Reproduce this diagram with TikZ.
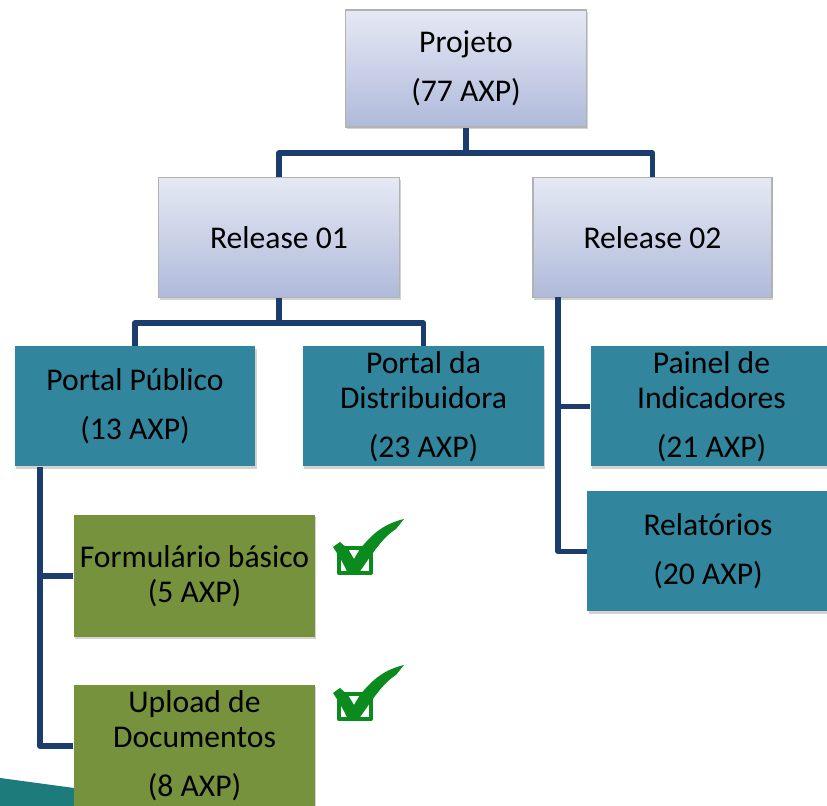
\documentclass[tikz,border=0pt]{standalone}
\usepackage{fontspec}
\setmainfont{Carlito}
\usetikzlibrary{shadows}
\definecolor{linkblue}{HTML}{1B3D6E}
\definecolor{tealbox}{HTML}{31859C}
\definecolor{olivebox}{HTML}{76923C}
\definecolor{tealband}{HTML}{1E7B7C}
\definecolor{checkgreen}{HTML}{0B8A1E}
\definecolor{lighttop}{HTML}{E6E9F4}
\definecolor{lightbottom}{HTML}{AFBADA}
\tikzset{
  basebox/.style={rectangle,inner sep=0pt,minimum width=2.41cm,minimum height=1.20cm,align=center,
    drop shadow={shadow xshift=0.4pt,shadow yshift=-0.7pt,opacity=0.35}},
  lightbox/.style={basebox,draw=black!30,line width=0.5pt,top color=lighttop,bottom color=lightbottom},
  tealnode/.style={basebox,fill=tealbox},
  olivenode/.style={basebox,fill=olivebox},
  link/.style={draw=linkblue,line width=1.45pt,line join=round},
  checkmark/.pic={
    \draw[checkgreen,line width=1.2pt,line join=round] (-0.31,-0.07) rectangle (0.01,0.18);
    \fill[checkgreen] (-0.37,0.19) -- (-0.30,0.24) -- (-0.22,0.17) -- (-0.16,0.07) -- (-0.10,0.17)
      .. controls (0.03,0.33) and (0.14,0.42) .. (0.34,0.47) -- (0.26,0.37)
      .. controls (0.12,0.28) and (0.03,0.13) .. (-0.12,-0.08) -- (-0.22,-0.08)
      .. controls (-0.25,0) and (-0.31,0.10) .. cycle;
  }
}
\begin{document}
\begin{tikzpicture}[font=\fontsize{9}{9.96}\selectfont]
\useasboundingbox (0,0) rectangle (8.27,8.06);

% faixa do fundo
\fill[tealband] (0,0.28) -- (0.74,0.18) -- (0.74,0) -- (0,0) -- cycle;

\node[lightbox,minimum height=1.17cm] (projeto) at (4.66,7.375) {Projeto\\[4pt](77 AXP)};
\node[lightbox] (release1) at (2.79,5.685) {Release 01};
\node[lightbox,minimum width=2.39cm] (release2) at (6.525,5.685) {Release 02};

\node[tealnode] (portalpub) at (1.35,3.995) {Portal Público\\[4pt](13 AXP)};
\node[tealnode] (portaldist) at (4.235,3.995) {Portal da\\Distribuidora\\[4pt](23 AXP)};
\node[tealnode] (painel) at (7.115,3.995) {Painel de\\Indicadores\\[4pt](21 AXP)};
\node[tealnode] (relatorios) at (7.08,2.545) {Relatórios\\[4pt](20 AXP)};

\node[olivenode,minimum height=1.22cm] (formulario) at (1.945,2.30) {Formulário básico\\(5 AXP)};
\node[olivenode,minimum height=1.22cm] (upload) at (1.945,0.60) {Upload de\\Documentos\\[4pt](8 AXP)};

\coordinate (busprojeto) at (4.66,6.53);
\coordinate (busrelease) at (2.79,4.83);
\coordinate (toprel2) at (5.58,5.09);
\coordinate (toppub) at (0.40,3.39);

\draw[link] (projeto.south) -- (busprojeto);
\draw[link] (busprojeto) -| (release1.north);
\draw[link] (busprojeto) -| (release2.north);

\draw[link] (release1.south) -- (busrelease);
\draw[link] (busrelease) -| (portalpub.north);
\draw[link] (busrelease) -| (portaldist.north);

\draw[link] (toprel2) |- (relatorios.west);
\draw[link] (toprel2) |- (painel.west);

\draw[link] (toppub) |- (formulario.west);
\draw[link] (toppub) |- (upload.west);

\pic at (3.70,2.40) {checkmark};
\pic at (3.70,0.94) {checkmark};
\end{tikzpicture}
\end{document}
